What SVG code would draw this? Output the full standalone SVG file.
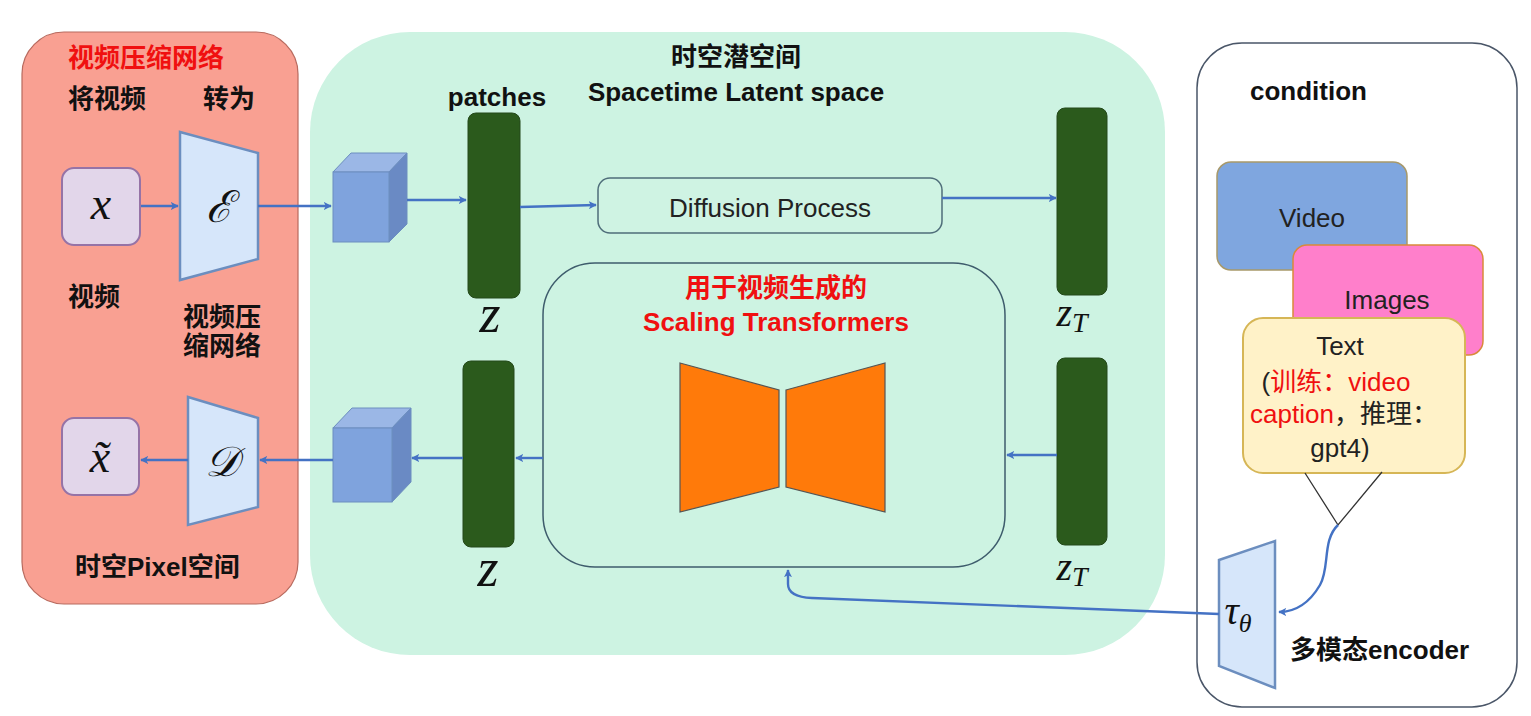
<svg xmlns="http://www.w3.org/2000/svg" width="1531" height="716" viewBox="0 0 1531 716">
<defs>
<marker id="ah" viewBox="0 0 10 10" refX="9" refY="5" markerWidth="8" markerHeight="8" orient="auto-start-reverse" markerUnits="userSpaceOnUse">
<path d="M0,0 L10,5 L0,10 L2.5,5 Z" fill="#4472C4"/>
</marker>
<style>
.cn{font-family:"Liberation Sans","Noto Sans CJK SC",sans-serif;font-weight:bold;font-size:26px;fill:#111}
.red{fill:#F01010}
.reg{font-family:"Liberation Sans","Noto Sans CJK SC",sans-serif;font-size:26px;fill:#222}
.math{font-family:"Liberation Serif","DejaVu Serif",serif;font-style:italic;fill:#111}
.bar{fill:#2B5A1C;stroke:#24481A;stroke-width:1}
.trap{fill:#D6E6FA;stroke:#6C8EBF;stroke-width:2.5}
.conn{fill:none;stroke:#4472C4;stroke-width:2.4}
.cubeF{fill:#7FA3DD;stroke:#6C8EBF;stroke-width:1}
.cubeS{fill:#6A8AC4;stroke:#6C8EBF;stroke-width:1}
.cubeT{fill:#9BB7E6;stroke:#6C8EBF;stroke-width:1}
.orange{fill:#FF7A0A;stroke:#555;stroke-width:1.2}
</style>
</defs>
<rect width="1531" height="716" fill="#ffffff"/>

<g id="compression-panel">
<rect x="22" y="32" width="276" height="572" rx="42" fill="#F9A092" stroke="#B86A5E" stroke-width="1.2"/>
<text class="cn red" x="68" y="67">视频压缩网络</text>
<text class="cn" x="68" y="108">将视频</text>
<text class="cn" x="203" y="108">转为</text>
<text class="cn" x="68" y="306">视频</text>
<text class="cn" x="183" y="326">视频压</text>
<text class="cn" x="183" y="355">缩网络</text>
<text class="cn" x="75" y="576">时空Pixel空间</text>
</g>

<g id="latent-panel">
<rect x="310" y="32" width="855" height="623" rx="100" fill="#CDF3E2"/>
<text class="cn" x="736" y="66" text-anchor="middle">时空潜空间</text>
<text class="cn" x="736" y="101" text-anchor="middle">Spacetime Latent space</text>
</g>

<g id="condition-panel">
<rect x="1197" y="43" width="320" height="664" rx="45" fill="#ffffff" stroke="#4A5668" stroke-width="1.5"/>
<text class="cn" x="1250" y="100">condition</text>
<text class="cn" x="1290" y="659">多模态encoder</text>
</g>

<g id="node-x">
<rect x="62" y="168" width="78" height="77" rx="12" fill="#E2D6EA" stroke="#9673A6" stroke-width="2"/>
<text class="math" x="101" y="219" font-size="46" text-anchor="middle">x</text>
</g>

<g id="node-E">
<polygon class="trap" points="180,132 258,153 258,259 180,280"/>
<text x="219" y="222" font-family="DejaVu Serif,serif" font-style="italic" font-size="44" text-anchor="middle" fill="#111">ℰ</text>
</g>

<g id="node-xtilde">
<rect x="62" y="418" width="77" height="77" rx="12" fill="#E2D6EA" stroke="#9673A6" stroke-width="2"/>
<text class="math" x="100" y="472" font-size="46" text-anchor="middle">x̃</text>
</g>

<g id="node-D">
<polygon class="trap" points="188,397 258,418 258,507 188,525"/>
<text x="222" y="476" font-family="DejaVu Serif,serif" font-style="italic" font-size="42" text-anchor="middle" fill="#111">𝒟</text>
</g>

<g id="cube-top">
<polygon class="cubeT" points="333,172 351,153 407,153 389,172"/>
<polygon class="cubeS" points="389,172 407,153 407,224 389,242"/>
<rect class="cubeF" x="333" y="172" width="56" height="70"/>
</g>

<g id="cube-bottom">
<polygon class="cubeT" points="333,428 352,408 411,408 392,428"/>
<polygon class="cubeS" points="392,428 411,408 411,482 392,502"/>
<rect class="cubeF" x="333" y="428" width="59" height="74"/>
</g>

<g id="bar-z-top">
<text class="cn" x="497" y="106" text-anchor="middle">patches</text>
<rect class="bar" x="468" y="113" width="52" height="185" rx="8"/>
<text class="math" x="490" y="332" font-size="54" text-anchor="middle">z</text>
</g>

<g id="bar-z-bottom">
<rect class="bar" x="463" y="361" width="51" height="186" rx="8"/>
<text class="math" x="488" y="586" font-size="54" text-anchor="middle">z</text>
</g>

<g id="bar-zT-top">
<rect class="bar" x="1057" y="108" width="50" height="187" rx="8"/>
<text class="math" x="1072" y="326" font-size="40" text-anchor="middle">z<tspan font-size="28" dy="6">T</tspan></text>
</g>

<g id="bar-zT-bottom">
<rect class="bar" x="1057" y="358" width="50" height="187" rx="8"/>
<text class="math" x="1072" y="580" font-size="40" text-anchor="middle">z<tspan font-size="28" dy="6">T</tspan></text>
</g>

<g id="diffusion">
<rect x="598" y="178" width="344" height="55" rx="12" fill="#CFF3E3" stroke="#4F6E7A" stroke-width="1.5"/>
<text class="reg" x="770" y="217" text-anchor="middle" font-size="27">Diffusion Process</text>
</g>

<g id="transformer">
<rect x="543" y="263" width="462" height="304" rx="52" fill="#CDF3E2" stroke="#3E5C6C" stroke-width="1.5"/>
<text class="cn red" x="776" y="297" text-anchor="middle">用于视频生成的</text>
<text class="cn red" x="776" y="331" text-anchor="middle">Scaling Transformers</text>
<polygon class="orange" points="680,363 779,390 779,487 680,512"/>
<polygon class="orange" points="786,390 885,363 885,512 786,487"/>
</g>

<g id="cond-video">
<rect x="1217" y="162" width="190" height="108" rx="14" fill="#7FA6DF" stroke="#A8996A" stroke-width="1.5"/>
<text class="reg" x="1312" y="227" text-anchor="middle" fill="#1A2340">Video</text>
</g>

<g id="cond-images">
<rect x="1293" y="245" width="190" height="110" rx="14" fill="#FF7FCB" stroke="#D98A3A" stroke-width="1.5"/>
<text class="reg" x="1387" y="309" text-anchor="middle" fill="#3A1030">Images</text>
</g>

<g id="cond-text">
<rect x="1243" y="318" width="222" height="155" rx="20" fill="#FFF2C8" stroke="#D6B656" stroke-width="2"/>
<text class="reg" x="1340" y="355" text-anchor="middle">Text</text>
<text class="reg" x="1336" y="391" text-anchor="middle" font-size="27">(<tspan fill="#F01010">训练：video</tspan></text>
<text class="reg" x="1344" y="423" text-anchor="middle" font-size="27"><tspan fill="#F01010">caption</tspan>，推理：</text>
<text class="reg" x="1340" y="457" text-anchor="middle" font-size="27">gpt4)</text>
</g>

<g id="node-tau">
<polygon class="trap" points="1219,560 1275,541 1275,688 1219,666"/>
<text class="math" x="1238" y="624" font-size="40" text-anchor="middle">τ<tspan font-size="26" dy="8">θ</tspan></text>
</g>

<g id="connectors">
<line class="conn" x1="141" y1="206" x2="178" y2="206" marker-end="url(#ah)"/>
<line class="conn" x1="258" y1="206" x2="331" y2="206" marker-end="url(#ah)"/>
<line class="conn" x1="407" y1="200" x2="466" y2="200" marker-end="url(#ah)"/>
<line class="conn" x1="520" y1="207" x2="596" y2="205" marker-end="url(#ah)"/>
<line class="conn" x1="942" y1="198" x2="1056" y2="198" marker-end="url(#ah)"/>
<line class="conn" x1="1057" y1="455" x2="1007" y2="455" marker-end="url(#ah)"/>
<line class="conn" x1="543" y1="458" x2="516" y2="458" marker-end="url(#ah)"/>
<line class="conn" x1="463" y1="458" x2="412" y2="458" marker-end="url(#ah)"/>
<line class="conn" x1="333" y1="460" x2="260" y2="460" marker-end="url(#ah)"/>
<line class="conn" x1="188" y1="460" x2="141" y2="460" marker-end="url(#ah)"/>
<path class="conn" d="M1219,614 L812,598 Q788,597 788,584 L788,570" marker-end="url(#ah)"/>
<path d="M1305,473 L1338,525 L1382,472" fill="none" stroke="#333" stroke-width="1.3"/>
<path class="conn" d="M1338,525 C1322,540 1330,568 1320,585 C1310,602 1296,612 1279,612" marker-end="url(#ah)"/>
</g>
</svg>
